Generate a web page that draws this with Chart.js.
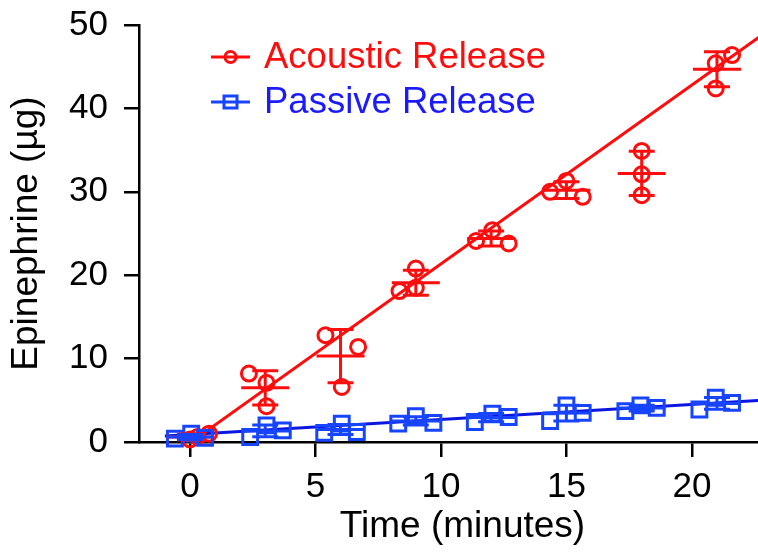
<!DOCTYPE html>
<html><head><meta charset="utf-8">
<script src="https://cdn.jsdelivr.net/npm/chart.js@4.4.0/dist/chart.umd.min.js"></script>
<style>html,body{margin:0;padding:0;background:#fff;}#wrap{width:758px;height:554px;position:relative;overflow:hidden;}</style>
</head><body><div id="wrap"><canvas id="c" width="758" height="554"></canvas></div>
<script>
// ---- data ----
const timePoints = [0, 3, 6, 9, 12, 15, 18, 21];
const xTicks = [0, 5, 10, 15, 20];
const yTicks = [0, 10, 20, 30, 40, 50];

const acousticX = [0.0, 0.3, 0.76, 2.35, 3.05, 3.05, 5.4, 6.7, 6.05, 8.35, 9.0, 9.0,
                   11.4, 12.05, 12.7, 14.35, 15.0, 15.65, 18.0, 18.0, 18.0, 20.95, 21.6, 20.95];
const acousticY = [0.3, 0.6, 1.0, 8.2, 7.1, 4.3, 12.8, 11.4, 6.6, 18.1, 20.8, 18.5,
                   24.1, 25.4, 23.8, 30.0, 31.3, 29.4, 34.9, 32.1, 29.6, 45.4, 46.4, 42.4];
const acousticMean = [0.6, 6.5, 10.3, 19.1, 24.4, 30.2, 32.2, 44.7];
const acousticSD = [0.35, 2.05, 3.2, 1.5, 0.9, 1.0, 2.65, 2.1];
const acousticFit = [2.145, -0.1];   // slope, intercept
const acousticFitRange = [0.05, 24];

const passiveX = [-0.6, 0.05, 0.6, 2.4, 3.05, 3.7, 5.35, 6.05, 6.65, 8.3, 9.0, 9.7,
                  11.35, 12.05, 12.7, 14.35, 15.0, 15.65, 17.35, 17.95, 18.6, 20.3, 20.95, 21.6];
const passiveY = [0.4, 1.0, 0.5, 0.6, 2.0, 1.4, 1.1, 2.2, 1.2, 2.2, 3.1, 2.3,
                  2.4, 3.4, 3.0, 2.5, 4.4, 3.5, 3.7, 4.4, 4.1, 3.9, 5.3, 4.7];
const passiveMean = [0.6, 1.33, 1.5, 2.53, 2.93, 3.47, 4.07, 4.63];
const passiveSD = [0.3, 0.7, 0.6, 0.5, 0.5, 0.95, 0.35, 0.7];
const passiveFit = [0.18, 0.9];
const passiveFitRange = [-1.0, 24];

const RED = '#ff0d0d';
const BLUE_PT = '#1745ff';
const BLUE_LINE = '#0b16e0';
const BLUE_TXT = '#1a1aff';
const FONT = "'Liberation Sans', Arial, sans-serif";

function pts(xs, ys) { return xs.map((x, i) => ({ x: x, y: ys[i] })); }
function fitPts(fit, range) { return range.map(x => ({ x: x, y: fit[0] * x + fit[1] })); }

// The x axis of the original runs past the right edge of the picture
const extendAxis = {
  id: 'extendAxis',
  afterLayout(chart) {
    const xs = chart.scales.x;
    const extra = 28;
    xs.right += extra;
    xs.width += extra;
    chart.chartArea.right += extra;
    chart.chartArea.width += extra;
    xs.configure();
  }
};

const errorBars = {
  id: 'errorBars',
  afterDatasetsDraw(chart) {
    const xs = chart.scales.x, ys = chart.scales.y, ctx = chart.ctx;
    const groups = [
      { m: acousticMean, s: acousticSD, c: RED },
      { m: passiveMean, s: passiveSD, c: BLUE_PT }
    ];
    ctx.save();
    ctx.lineWidth = 3;
    groups.forEach(g => {
      ctx.strokeStyle = g.c;
      timePoints.forEach((t, i) => {
        const px = xs.getPixelForValue(t);
        const pm = ys.getPixelForValue(g.m[i]);
        const pt = ys.getPixelForValue(g.m[i] + g.s[i]);
        const pb = ys.getPixelForValue(g.m[i] - g.s[i]);
        ctx.beginPath();
        ctx.moveTo(px, pt); ctx.lineTo(px, pb);
        ctx.moveTo(px - 13, pt); ctx.lineTo(px + 13, pt);
        ctx.moveTo(px - 13, pb); ctx.lineTo(px + 13, pb);
        ctx.moveTo(px - 24, pm); ctx.lineTo(px + 24, pm);
        ctx.stroke();
      });
    });
    ctx.restore();
  }
};

const legendPlugin = {
  id: 'customLegend',
  afterDraw(chart) {
    const ctx = chart.ctx;
    const items = [
      { text: 'Acoustic Release', c: RED, tc: RED, y: 57, shape: 'circle' },
      { text: 'Passive Release', c: BLUE_PT, tc: BLUE_TXT, y: 102, shape: 'rect' }
    ];
    ctx.save();
    items.forEach(it => {
      ctx.strokeStyle = it.c;
      ctx.lineWidth = 3;
      ctx.beginPath();
      ctx.moveTo(211, it.y); ctx.lineTo(250, it.y);
      ctx.stroke();
      ctx.beginPath();
      if (it.shape === 'circle') ctx.arc(230.5, it.y, 5.5, 0, Math.PI * 2);
      else ctx.rect(224, it.y - 6, 13, 12);
      ctx.stroke();
      ctx.fillStyle = it.tc;
      ctx.font = '36.5px ' + FONT;
      ctx.textBaseline = 'middle';
      ctx.textAlign = 'left';
      ctx.fillText(it.text, 264, it.y + 1);
    });
    ctx.restore();
  }
};

Chart.defaults.font.family = FONT;
Chart.defaults.color = '#000';

new Chart(document.getElementById('c'), {
  type: 'scatter',
  data: {
    datasets: [
      { label: 'Acoustic fit', data: fitPts(acousticFit, acousticFitRange), showLine: true,
        borderColor: RED, borderWidth: 3, pointRadius: 0, order: 3 },
      { label: 'Passive fit', data: fitPts(passiveFit, passiveFitRange), showLine: true,
        borderColor: BLUE_LINE, borderWidth: 3, pointRadius: 0, order: 4, clip: false },
      { label: 'Acoustic Release', data: pts(acousticX, acousticY), pointStyle: 'circle',
        pointRadius: 7.5, pointBorderWidth: 3, borderColor: RED, backgroundColor: 'rgba(0,0,0,0)',
        pointBackgroundColor: 'rgba(0,0,0,0)', clip: false, order: 2 },
      { label: 'Passive Release', data: pts(passiveX, passiveY), pointStyle: 'rect',
        pointRadius: 10.5, pointBorderWidth: 3, borderColor: BLUE_PT, backgroundColor: 'rgba(0,0,0,0)',
        pointBackgroundColor: 'rgba(0,0,0,0)', clip: false, order: 1 }
    ]
  },
  options: {
    responsive: false,
    animation: false,
    devicePixelRatio: 1,
    layout: { autoPadding: false, padding: { top: 25, right: 0, left: 0, bottom: 0 } },
    plugins: { legend: { display: false }, tooltip: { enabled: false } },
    scales: {
      x: {
        type: 'linear', min: -2.03, max: 23.75,
        afterBuildTicks: s => { s.ticks = xTicks.map(v => ({ value: v })); },
        afterFit: s => { s.height = 112; s.paddingLeft = 0; s.paddingRight = 0; },
        ticks: { font: { size: 35 }, color: '#000', padding: 9 },
        grid: { drawOnChartArea: false, drawTicks: true, tickLength: 15, color: '#000', lineWidth: 2.5 },
        border: { display: true, color: '#000', width: 2.5 },
        title: { display: true, text: 'Time (minutes)', font: { size: 37 }, color: '#000', padding: { top: 0, bottom: 5 } }
      },
      y: {
        type: 'linear', min: 0, max: 50,
        afterBuildTicks: s => { s.ticks = yTicks.map(v => ({ value: v })); },
        afterFit: s => { s.width = 139; s.paddingTop = 0; s.paddingBottom = 0; },
        ticks: { font: { size: 35 }, color: '#000', padding: 16 },
        grid: { drawOnChartArea: false, drawTicks: true, tickLength: 15, color: '#000', lineWidth: 2.5 },
        border: { display: true, color: '#000', width: 2.5 },
        title: { display: true, text: 'Epinephrine (µg)', font: { size: 37 }, color: '#000', padding: { top: 5, bottom: 0 } }
      }
    }
  },
  plugins: [extendAxis, errorBars, legendPlugin]
});
</script></body></html>
